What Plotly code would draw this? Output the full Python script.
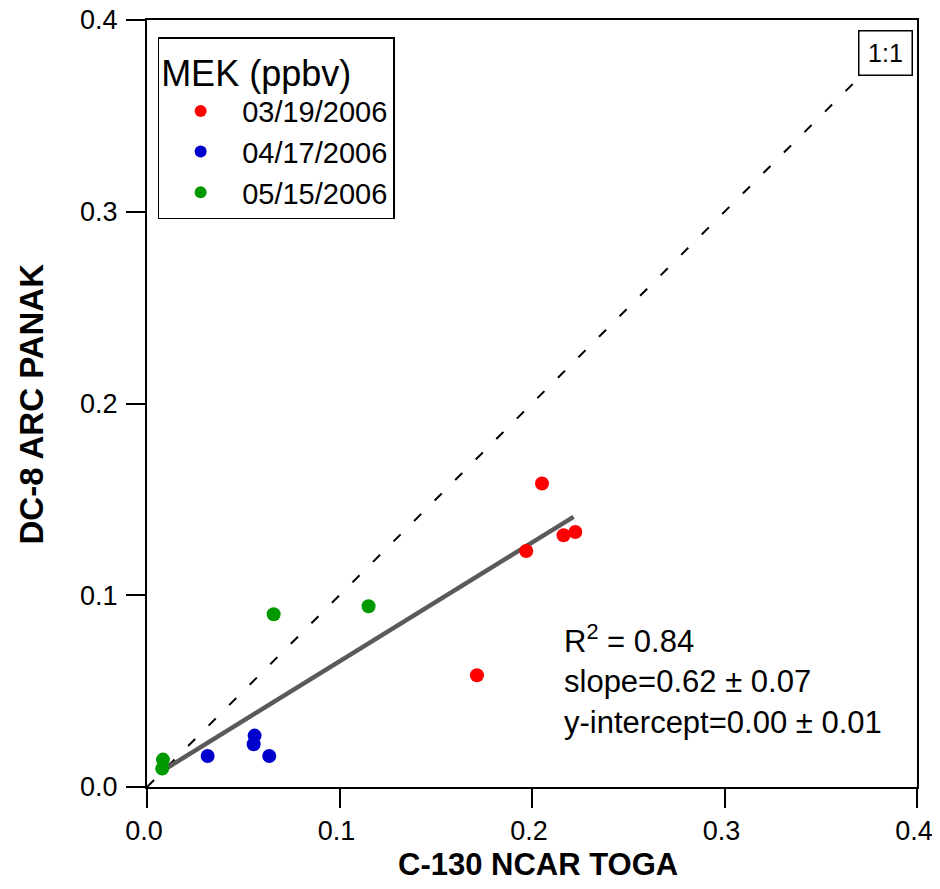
import plotly.graph_objects as go

# ---- data ----
series_names = ["03/19/2006", "04/17/2006", "05/15/2006"]
series_colors = ["#ff0000", "#0000cc", "#009900"]

red_x = [0.2052, 0.2225, 0.2164, 0.1970, 0.1714]
red_y = [0.1583, 0.1330, 0.1313, 0.1231, 0.0583]

blue_x = [0.0315, 0.0559, 0.0554, 0.0635]
blue_y = [0.0162, 0.0268, 0.0223, 0.0162]

green_x = [0.0658, 0.1151, 0.0083, 0.0079]
green_y = [0.0901, 0.0943, 0.0143, 0.0096]

fit_slope = 0.62
fit_intercept = 0.0035
fit_x_range = [0.0078, 0.2216]

one_to_one_range = [0.0, 0.368]

x_ticks = [0.0, 0.1, 0.2, 0.3, 0.4]
y_ticks = [0.0, 0.1, 0.2, 0.3, 0.4]
tick_text = ["0.0", "0.1", "0.2", "0.3", "0.4"]

stats_text = "R<sup>2</sup> = 0.84<br>slope=0.62 ± 0.07<br>y-intercept=0.00 ± 0.01"

FONT = "Liberation Sans, Arial, sans-serif"

fig = go.Figure()

# 1:1 dashed line
fig.add_trace(go.Scatter(
    x=one_to_one_range, y=one_to_one_range, mode="lines",
    line=dict(color="black", width=2, dash="10px,19px"),
    showlegend=False, hoverinfo="skip"))

# regression line
fit_y = [fit_slope * v + fit_intercept for v in fit_x_range]
fig.add_trace(go.Scatter(
    x=fit_x_range, y=fit_y, mode="lines",
    line=dict(color="#5a5a5a", width=4.5),
    showlegend=False, hoverinfo="skip"))

for name, color, xs, ys in zip(series_names, series_colors,
                               [red_x, blue_x, green_x],
                               [red_y, blue_y, green_y]):
    fig.add_trace(go.Scatter(
        x=xs, y=ys, mode="markers", name=name,
        marker=dict(color=color, size=14, line=dict(width=0))))

axis_common = dict(
    range=[0, 0.4], showgrid=False, zeroline=False, automargin=False,
    showline=True, linecolor="black", linewidth=2, mirror=True,
    ticks="outside", ticklen=19, tickwidth=2, tickcolor="black",
    ticklabeloverflow="allow",
    tickfont=dict(family=FONT, size=27, color="black"),
)

fig.update_xaxes(tickvals=x_ticks, ticktext=tick_text, ticklabelshift=-3, **axis_common)
fig.update_yaxes(tickvals=y_ticks, ticktext=tick_text, ticklabelstandoff=3, **axis_common)

fig.update_layout(
    width=924, height=873,
    margin=dict(l=139, r=15.3, t=12, b=94.3, autoexpand=False),
    paper_bgcolor="white", plot_bgcolor="white",
    font=dict(family=FONT, color="black"),
    legend=dict(
        x=0.0138, y=0.9775, xanchor="left", yanchor="top",
        bgcolor="white", bordercolor="black", borderwidth=1.5,
        font=dict(family=FONT, size=29, color="black"),
        title=dict(text="MEK (ppbv)", font=dict(family=FONT, size=36, color="black")),
        itemwidth=73, itemsizing="constant",
    ),
    annotations=[
        dict(text="<b>C-130 NCAR TOGA</b>", xref="paper", yref="paper",
             x=0.508, y=-(864 - 786.7) / 766.7, xanchor="center", yanchor="middle",
             showarrow=False, font=dict(family=FONT, size=31, color="black")),
        dict(text="<b>DC-8 ARC PANAK</b>", xref="paper", yref="paper",
             x=-0.1494, y=0.5, xanchor="center", yanchor="middle", textangle=-90,
             showarrow=False, font=dict(family=FONT, size=33, color="black")),
        dict(text="1:1", xref="paper", yref="paper",
             x=(884.7 - 146.7) / 770, y=(786.7 - 52.5) / 766.7,
             xanchor="center", yanchor="middle", showarrow=False,
             width=50, height=41, align="center", valign="middle",
             bordercolor="black", borderwidth=1.5, borderpad=1, bgcolor="white",
             font=dict(family=FONT, size=25, color="black")),
        dict(text=stats_text, xref="paper", yref="paper",
             x=(562 - 146.7) / 770, y=(786.7 - 617) / 766.7,
             xanchor="left", yanchor="top", align="left", showarrow=False,
             font=dict(family=FONT, size=31, color="black")),
    ],
)

fig.write_html("out.html")
